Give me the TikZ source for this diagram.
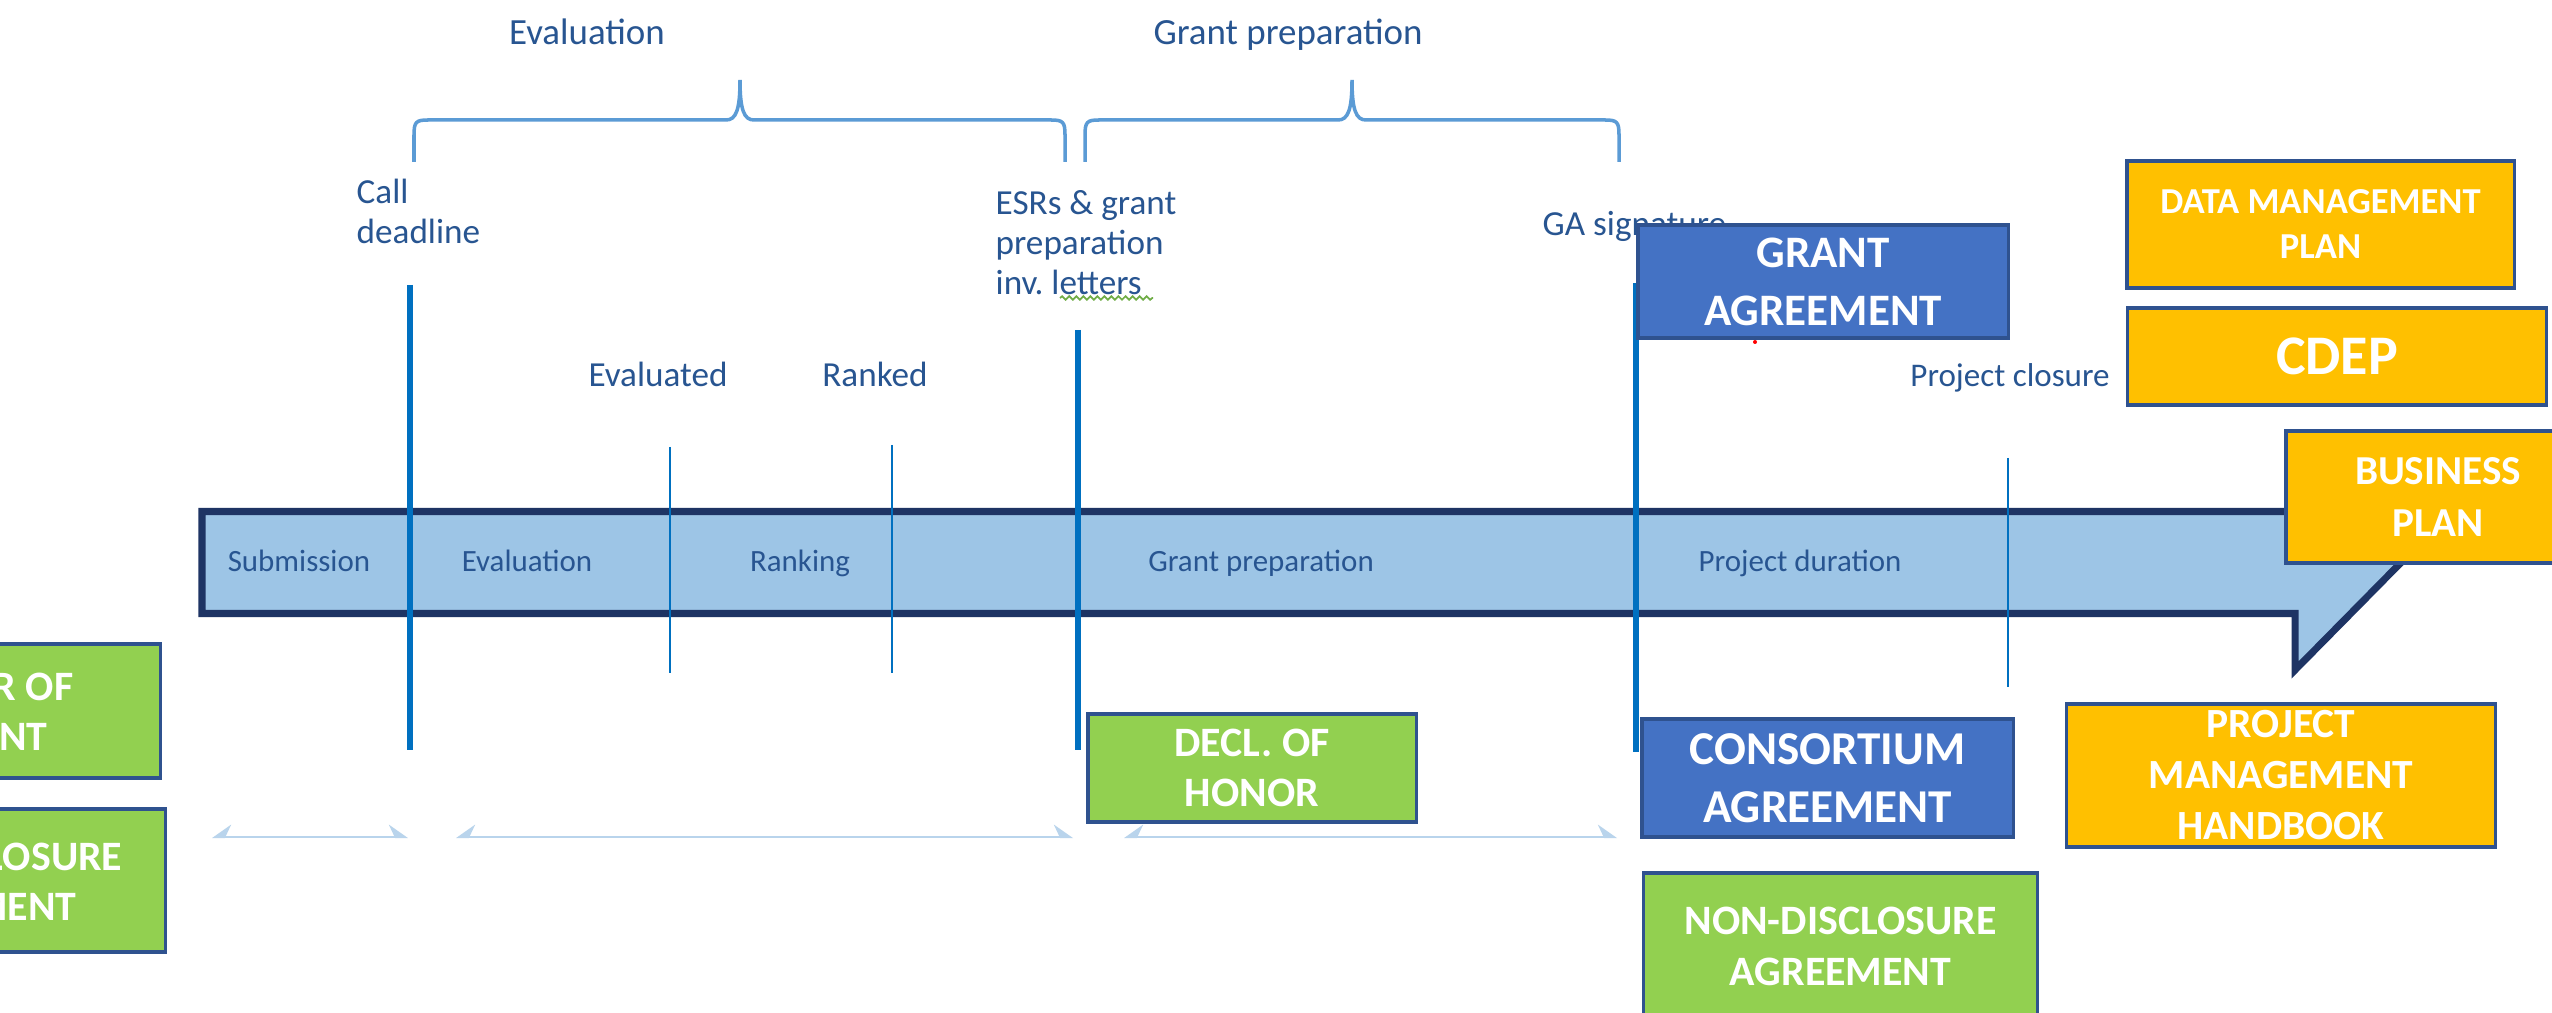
\documentclass[tikz,border=0pt]{standalone}
\usepackage{fontspec}
\setmainfont{Carlito}
\usetikzlibrary{arrows.meta,decorations.pathmorphing}
\definecolor{bandfill}{RGB}{157,197,230}
\definecolor{bandedge}{RGB}{30,52,100}
\definecolor{tlc}{RGB}{0,112,192}
\definecolor{brc}{RGB}{91,155,213}
\definecolor{lblc}{RGB}{40,85,145}
\definecolor{bxblue}{RGB}{68,114,196}
\definecolor{bxorange}{RGB}{255,192,0}
\definecolor{bxgreen}{RGB}{146,208,80}
\definecolor{bxedge}{RGB}{47,82,143}
\definecolor{dimc}{RGB}{185,212,236}
\definecolor{spellc}{RGB}{112,173,71}
\newcommand\bxfont[2]{\fontsize{#1}{#2}\selectfont\bfseries}
\newcommand\lbfont[1]{\fontsize{#1}{11.4pt}\selectfont}
\begin{document}
\begin{tikzpicture}[x=0.01cm,y=-0.01cm,
  docbox/.style={draw=bxedge, line width=0.9pt, text=white, align=center, inner sep=0pt},
  bluebox/.style={docbox, fill=bxblue},
  orangebox/.style={docbox, fill=bxorange},
  greenbox/.style={docbox, fill=bxgreen},
  thickline/.style={tlc, line width=1.5pt},
  thinline/.style={tlc, line width=0.8pt},
  lbltext/.style={text=lblc, inner sep=0pt},
  bandlabel/.style={lbltext, font=\lbfont{8.8pt}, anchor=base},
  bracestyle/.style={brc, line width=1pt},
  dimline/.style={dimc, line width=0.6pt}
]
\fill[white] (0,0) rectangle (2552,1013);
\useasboundingbox (0,0) rectangle (2552,1013);

% timeline band arrow
\draw[fill=bandfill, draw=bandedge, line width=2pt, line join=miter]
  (202,511.5) -- (2295,511.5) -- (2295,455) -- (2401,562.5) -- (2295,670) -- (2295,613.5) -- (202,613.5) -- cycle;

% milestone lines
\draw[thickline] (410,285) -- (410,750);
\draw[thickline] (1078,330) -- (1078,750);
\draw[thickline] (1636,283) -- (1636,752);
\draw[thinline] (670,447) -- (670,673);
\draw[thinline] (892,445) -- (892,673);
\draw[thinline] (2008,458) -- (2008,687);

% band labels
\node[bandlabel] (bSub) at (299,572) {Submission};
\node[bandlabel] (bEval) at (527,572) {Evaluation};
\node[bandlabel] (bRank) at (800,572) {Ranking};
\node[bandlabel] (bGrant) at (1261,572) {Grant preparation};
\node[bandlabel] (bProj) at (1800,572) {Project duration};

% top titles and braces
\node[lbltext, font=\lbfont{10.5pt}, anchor=base] (tEval) at (587,45) {Evaluation};
\node[lbltext, font=\lbfont{10.5pt}, anchor=base] (tGrant) at (1288,45) {Grant preparation};
\draw[bracestyle] (414,162) -- (414,135) .. controls (414,122) and (416,120) .. (428,120) -- (726,120)
  .. controls (736,120) and (740,110) .. (740,80) .. controls (740,110) and (744,120) .. (754,120)
  -- (1051,120) .. controls (1063,120) and (1065,122) .. (1065,135) -- (1065,162);
\draw[bracestyle] (1085,162) -- (1085,135) .. controls (1085,122) and (1087,120) .. (1099,120) -- (1338,120)
  .. controls (1348,120) and (1352,110) .. (1352,80) .. controls (1352,110) and (1356,120) .. (1366,120)
  -- (1605,120) .. controls (1617,120) and (1619,122) .. (1619,135) -- (1619,162);

% milestone labels
\node[lbltext, font=\lbfont{10pt}, anchor=north west, align=left] (lCall) at (356,178) {Call\\deadline};
\node[lbltext, font=\lbfont{10pt}, anchor=north west, align=left] (lEsr) at (995,190) {ESRs \& grant\\preparation\\inv.\ letters};
\draw[spellc, line width=0.5pt, decorate, decoration={snake, amplitude=0.5pt, segment length=2pt}] (1060,298) -- (1153,298);
\node[lbltext, font=\lbfont{10pt}, anchor=north west] (lGa) at (1542,211) {GA signature};
\node[lbltext, font=\lbfont{10pt}, anchor=base] (lEvd) at (658,387) {Evaluated};
\node[lbltext, font=\lbfont{10pt}, anchor=base] (lRnk) at (875,387) {Ranked};
\node[lbltext, font=\lbfont{9.4pt}, anchor=base] (lClose) at (2010,387) {Project closure};

% dimension arrows
\draw[dimline, {Stealth[harpoon,swap,length=5pt,width=7pt]}-{Stealth[harpoon,length=5pt,width=7pt]}] (212,837) -- (408,837);
\draw[dimline, {Stealth[harpoon,swap,length=5pt,width=7pt]}-{Stealth[harpoon,length=5pt,width=7pt]}] (456,837) -- (1073,837);
\draw[dimline, {Stealth[harpoon,swap,length=5pt,width=7pt]}-{Stealth[harpoon,length=5pt,width=7pt]}] (1124,837) -- (1617,837);

% document boxes
\node[bluebox, minimum width=3.70cm, minimum height=1.13cm, font=\bxfont{12.8pt}{16.5pt}] (ga) at (1823,281.5) {GRANT\\AGREEMENT};
\fill[red] (1755,342) circle (2);
\node[orangebox, minimum width=3.87cm, minimum height=1.27cm, font=\bxfont{10.4pt}{12.8pt}] (dmp) at (2320.5,224.5) {DATA MANAGEMENT\\PLAN};
\node[orangebox, minimum width=4.18cm, minimum height=0.97cm, font=\bxfont{15.9pt}{18pt}] (cdep) at (2337,356.5) {CDEP};
\node[orangebox, minimum width=3.04cm, minimum height=1.32cm, font=\bxfont{11.7pt}{14.8pt}] (bp) at (2438,497) {BUSINESS\\PLAN};
\node[orangebox, minimum width=4.28cm, minimum height=1.43cm, font=\bxfont{11.8pt}{14.5pt}] (pmh) at (2281,775.5) {PROJECT\\MANAGEMENT\\HANDBOOK};
\node[bluebox, minimum width=3.71cm, minimum height=1.18cm, font=\bxfont{13.4pt}{16.5pt}] (cons) at (1827.5,778) {CONSORTIUM\\AGREEMENT};
\node[greenbox, minimum width=3.93cm, minimum height=1.46cm, font=\bxfont{11.9pt}{14.5pt}] (nda) at (1840.5,946) {NON-DISCLOSURE\\AGREEMENT};
\node[greenbox, minimum width=3.28cm, minimum height=1.08cm, font=\bxfont{11.9pt}{14.2pt}] (decl) at (1252,768) {DECL. OF\\HONOR};
\node[greenbox, minimum width=3.60cm, minimum height=1.34cm] (left1) at (-20,711) {};
\node[greenbox, minimum width=3.65cm, minimum height=1.43cm] (left2) at (-17.5,880.5) {};
\node[text=white, font=\bxfont{11.9pt}{14pt}, anchor=base east, inner sep=0pt] (l1a) at (74,700) {R OF};
\node[text=white, font=\bxfont{11.9pt}{14pt}, anchor=base east, inner sep=0pt] (l1b) at (48,750) {NT};
\node[text=white, font=\bxfont{11.9pt}{14pt}, anchor=base east, inner sep=0pt] (l2a) at (123,870) {LOSURE};
\node[text=white, font=\bxfont{11.9pt}{14pt}, anchor=base east, inner sep=0pt] (l2b) at (77,920) {MENT};
\end{tikzpicture}
\end{document}
